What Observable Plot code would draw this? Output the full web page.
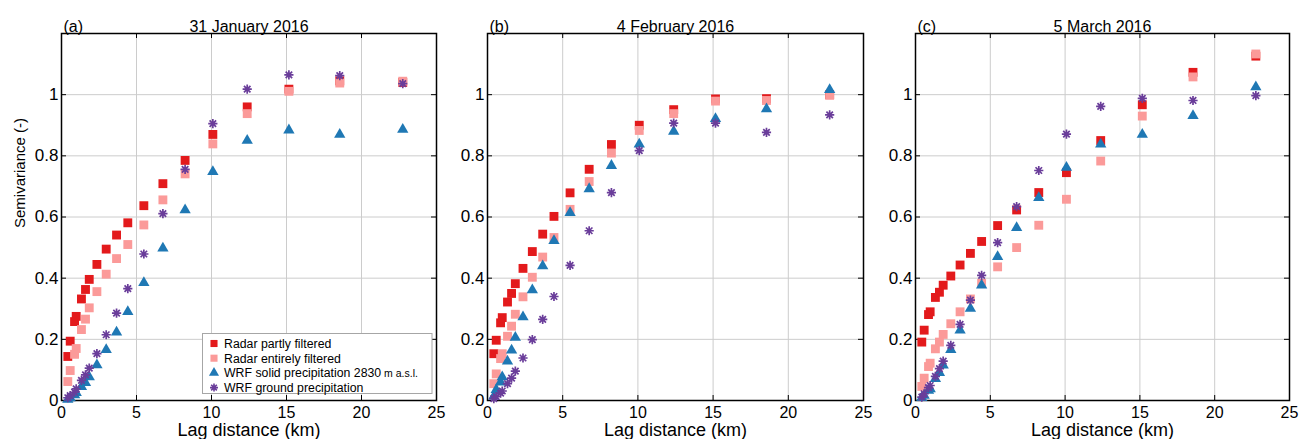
<!DOCTYPE html>
<html>
<head>
<meta charset="utf-8">
<script src="https://cdn.jsdelivr.net/npm/d3@7"></script>
<script src="https://cdn.jsdelivr.net/npm/@observablehq/plot@0.6"></script>
<style>
  html, body { margin: 0; padding: 0; background: white; }
  #wrap { position: relative; width: 1301px; height: 439px; overflow: hidden; background: white; }
  #wrap > svg { position: absolute; top: 0; }
</style>
</head>
<body>
<div id="wrap"></div>
<script>
// ---------- data ----------
const lag = [0.42, 0.58, 0.87, 0.98, 1.33, 1.6, 1.85, 2.36, 2.98, 3.67, 4.42, 5.49, 6.76, 8.24, 10.09, 12.38, 15.16, 18.55, 22.75];

const panelLetters = ["(a)", "(b)", "(c)"];
const panelTitles = ["31 January 2016", "4 February 2016", "5 March 2016"];
const seriesNames = ["Radar partly filtered", "Radar entirely filtered", "WRF solid precipitation 2830", "WRF ground precipitation"];
const seriesNameSuffix = ["", "", " m a.s.l.", ""];
const seriesColors = ["#e31a1c", "#fb9a99", "#1f78b4", "#6a3d9a"];

const xTicks = [0, 5, 10, 15, 20, 25];
const yTicks = [0, 0.2, 0.4, 0.6, 0.8, 1];
const xGridTicks = [5, 10, 15, 20];
const yGridTicks = [0.2, 0.4, 0.6, 0.8, 1];
const xLabel = "Lag distance (km)";
const yLabel = "Semivariance (-)";

// panel (a) 31 January 2016
const radarPartlyA   = [0.144, 0.194, 0.258, 0.275, 0.332, 0.363, 0.396, 0.445, 0.495, 0.541, 0.581, 0.637, 0.709, 0.785, 0.870, 0.960, 1.018, 1.045, 1.040];
const radarEntirelyA = [0.062, 0.098, 0.151, 0.170, 0.232, 0.266, 0.303, 0.356, 0.413, 0.464, 0.510, 0.574, 0.656, 0.741, 0.839, 0.938, 1.011, 1.038, 1.044];
const wrfSolidA      = [0.003, 0.008, 0.018, 0.025, 0.045, 0.058, 0.077, 0.116, 0.166, 0.223, 0.290, 0.385, 0.498, 0.623, 0.748, 0.850, 0.884, 0.870, 0.886];
const wrfGroundA     = [0.009, 0.016, 0.027, 0.038, 0.066, 0.084, 0.106, 0.153, 0.215, 0.286, 0.366, 0.479, 0.611, 0.756, 0.905, 1.018, 1.065, 1.062, 1.036];

// panel (b) 4 February 2016
const radarPartlyB   = [0.153, 0.197, 0.254, 0.271, 0.322, 0.350, 0.382, 0.432, 0.487, 0.544, 0.602, 0.679, 0.756, 0.837, 0.900, 0.951, 0.986, 0.987, 1.000];
const radarEntirelyB = [0.055, 0.087, 0.137, 0.153, 0.210, 0.243, 0.282, 0.339, 0.403, 0.469, 0.533, 0.625, 0.716, 0.809, 0.883, 0.938, 0.979, 0.981, 0.998];
const wrfSolidB      = [0.014, 0.035, 0.060, 0.077, 0.128, 0.164, 0.206, 0.273, 0.361, 0.440, 0.522, 0.614, 0.692, 0.768, 0.838, 0.880, 0.921, 0.953, 1.016];
const wrfGroundB     = [0.006, 0.013, 0.024, 0.031, 0.055, 0.073, 0.096, 0.139, 0.199, 0.265, 0.340, 0.442, 0.555, 0.680, 0.817, 0.907, 0.907, 0.877, 0.934];

// panel (c) 5 March 2016
const radarPartlyC   = [0.191, 0.230, 0.281, 0.290, 0.337, 0.354, 0.377, 0.407, 0.443, 0.481, 0.520, 0.572, 0.623, 0.680, 0.745, 0.850, 0.967, 1.073, 1.126];
const radarEntirelyC = [0.046, 0.073, 0.111, 0.122, 0.169, 0.191, 0.216, 0.251, 0.290, 0.332, 0.383, 0.437, 0.500, 0.573, 0.658, 0.783, 0.930, 1.058, 1.133];
const wrfSolidC      = [0.009, 0.016, 0.033, 0.038, 0.071, 0.091, 0.115, 0.166, 0.230, 0.301, 0.377, 0.470, 0.565, 0.663, 0.762, 0.838, 0.870, 0.931, 1.025];
const wrfGroundC     = [0.011, 0.022, 0.042, 0.049, 0.079, 0.104, 0.129, 0.180, 0.249, 0.328, 0.409, 0.516, 0.634, 0.752, 0.871, 0.962, 0.988, 0.981, 0.997];

// ---------- rendering ----------
const FONT = "'Liberation Sans', Arial, Helvetica, sans-serif";
const H = 439, MT = 33, MB = 39, ML = 61;
const FH = H - MT - MB;

// MATLAB-like 8-arm asterisk
const asterisk = {
  draw(ctx, size) {
    const r = Math.sqrt(size / Math.PI);
    const d = r * Math.SQRT1_2;
    ctx.moveTo(-r, 0); ctx.lineTo(r, 0);
    ctx.moveTo(0, -r); ctx.lineTo(0, r);
    ctx.moveTo(-d, -d); ctx.lineTo(d, d);
    ctx.moveTo(-d, d); ctx.lineTo(d, -d);
  }
};

const rows = (vals) => lag.map((x, i) => ({x, y: vals[i]}));

const panels = [
  {left: 0,   fw: 375, mr: 14, series: [radarPartlyA, radarEntirelyA, wrfSolidA, wrfGroundA], ylab: true},
  {left: 426, fw: 376, mr: 14, series: [radarPartlyB, radarEntirelyB, wrfSolidB, wrfGroundB], ylab: false},
  {left: 854, fw: 374, mr: 12, series: [radarPartlyC, radarEntirelyC, wrfSolidC, wrfGroundC], ylab: false}
];

const wrap = document.getElementById("wrap");

panels.forEach((p, k) => {
  const FW = p.fw;
  const marks = [
    Plot.gridX(xGridTicks, {stroke: "#cccccc", strokeOpacity: 1, strokeWidth: 1}),
    Plot.gridY(yGridTicks, {stroke: "#cccccc", strokeOpacity: 1, strokeWidth: 1}),
    Plot.tickX(xGridTicks, {x: d => d, insetTop: FH - 5, stroke: "black", strokeWidth: 1}),
    Plot.tickX(xGridTicks, {x: d => d, insetBottom: FH - 5, stroke: "black", strokeWidth: 1}),
    Plot.tickY(yGridTicks, {y: d => d, insetRight: FW - 5, stroke: "black", strokeWidth: 1}),
    Plot.tickY(yGridTicks, {y: d => d, insetLeft: FW - 5, stroke: "black", strokeWidth: 1}),
    Plot.axisX(xTicks, {tickSize: 0, tickPadding: 6, fontSize: 16, label: null, fill: "black", tickFormat: d => String(d)}),
    Plot.axisY(yTicks, {tickSize: 0, tickPadding: 3, fontSize: 17, label: null, fill: "black", tickFormat: d => String(d)}),
    Plot.text([xLabel], {frameAnchor: "bottom", dy: 23, lineAnchor: "top", fontSize: 18, fill: "black"}),
    Plot.text([panelTitles[k]], {frameAnchor: "top", dy: -13, fontSize: 16, fill: "black"}),
    Plot.text([panelLetters[k]], {frameAnchor: "top-left", dx: 2, dy: -13, textAnchor: "start", fontSize: 16, fill: "black"}),
    Plot.frame({stroke: "black", strokeWidth: 1.5}),
    Plot.dot(rows(p.series[0]), {x: "x", y: "y", symbol: "square", fill: seriesColors[0], r: 5}),
    Plot.dot(rows(p.series[1]), {x: "x", y: "y", symbol: "square", fill: seriesColors[1], r: 5}),
    Plot.dot(rows(p.series[2]), {x: "x", y: "y", symbol: "triangle", fill: seriesColors[2], r: 4.2}),
    Plot.dot(rows(p.series[3]), {x: "x", y: "y", symbol: asterisk, stroke: seriesColors[3], fill: "none", r: 4.6, strokeWidth: 1.7})
  ];
  if (p.ylab) {
    marks.push(Plot.text([yLabel], {frameAnchor: "left", rotate: -90, dx: -41, dy: 11, fontSize: 15, fill: "black"}));
  }
  const svg = Plot.plot({
    width: ML + FW + p.mr,
    height: H,
    marginTop: MT, marginBottom: MB, marginLeft: ML, marginRight: p.mr,
    style: {background: "transparent", fontFamily: FONT, color: "black", overflow: "visible"},
    x: {domain: [0, 25]},
    y: {domain: [0, 1.2]},
    marks
  });
  svg.style.left = p.left + "px";
  wrap.appendChild(svg);
});

// legend inside panel (a)
const lg = d3.create("svg")
  .attr("width", 231).attr("height", 62)
  .style("position", "absolute").style("left", "202px").style("top", "333px")
  .style("font-family", FONT);
lg.append("rect").attr("x", 0.5).attr("y", 0.5).attr("width", 229.5).attr("height", 60)
  .attr("fill", "white").attr("stroke", "#a6a6a6").attr("stroke-width", 1);
const legendSymbols = [d3.symbolSquare, d3.symbolSquare, d3.symbolTriangle, asterisk];
const legendSizes = [Math.PI * 16, Math.PI * 16, Math.PI * 14, Math.PI * 16];
seriesNames.forEach((name, i) => {
  const cy = 10.5 + i * 14.7;
  const g = lg.append("g").attr("transform", `translate(12,${cy})`);
  const path = g.append("path").attr("d", d3.symbol(legendSymbols[i], legendSizes[i])());
  if (i === 3) path.attr("fill", "none").attr("stroke", seriesColors[i]).attr("stroke-width", 1.6);
  else path.attr("fill", seriesColors[i]);
  const t = lg.append("text").attr("x", 22).attr("y", cy).attr("dy", "0.35em")
    .attr("font-size", 12.3).attr("fill", "black").text(name);
  if (seriesNameSuffix[i]) t.append("tspan").attr("font-size", 10.5).text(seriesNameSuffix[i]);
});
wrap.appendChild(lg.node());
</script>
</body>
</html>
